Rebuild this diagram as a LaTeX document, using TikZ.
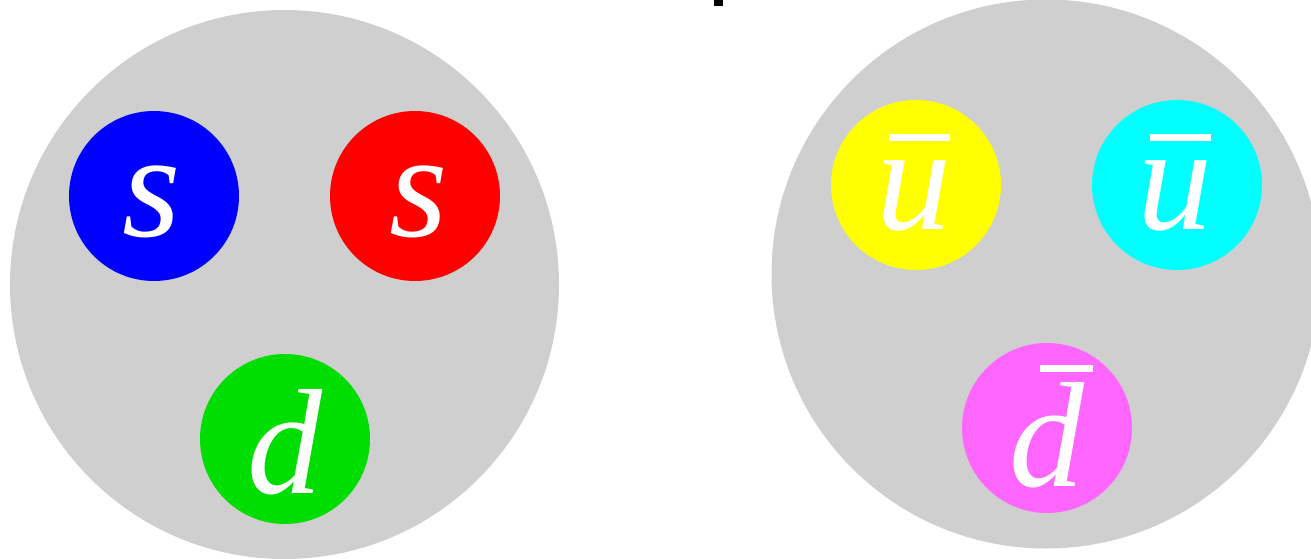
\documentclass[tikz,border=0pt]{standalone}
\usepackage{fontspec}
\setmainfont{Liberation Serif}
\definecolor{hadron}{HTML}{CFCFCF}
\definecolor{qblue}{HTML}{0000FF}
\definecolor{qred}{HTML}{FF0000}
\definecolor{qgreen}{HTML}{00DD00}
\definecolor{qyellow}{HTML}{FFFF00}
\definecolor{qcyan}{HTML}{00FFFF}
\definecolor{qmagenta}{HTML}{FF66FF}
\tikzset{
  bigball/.style={circle, fill=hadron, draw=none, minimum size=549pt, inner sep=0pt},
  quark/.style={circle, draw=none, minimum size=170pt, inner sep=0pt},
  flavour/.style={text=white, font=\fontsize{150}{150}\selectfont\itshape, anchor=base, inner sep=0pt},
}
\newcommand{\antibar}[3]{\rlap{\hspace{#1}\raisebox{#2}{\rule{#3}{7pt}}}}
\begin{document}
\begin{tikzpicture}[x=1pt,y=-1pt]
\useasboundingbox (0,0) rectangle (1311,559);
\clip (0,0) rectangle (1311,559);
% hadrons
\node[bigball] (omega) at (284.5,284.5) {};
\node[bigball] (meson) at (1046,274) {};
% quarks left
\node[quark, fill=qblue] (q1) at (154,196) {};
\node[quark, fill=qred] (q2) at (415,196) {};
\node[quark, fill=qgreen] (q3) at (285,439) {};
\node[flavour] (t1) at (152,236) {s};
\node[flavour] (t2) at (419,236) {s};
\node[flavour] (t3) at (285,493) {d};
% antiquarks right
\node[quark, fill=qyellow] (a1) at (916,185) {};
\node[quark, fill=qcyan] (a2) at (1177,185) {};
\node[quark, fill=qmagenta] (a3) at (1047,428) {};
\node[flavour] (b1) at (914,229) {\antibar{12pt}{88pt}{61pt}u};
\node[flavour] (b2) at (1175,229) {\antibar{12pt}{88pt}{61pt}u};
\node[flavour] (b3) at (1047,486) {\antibar{30pt}{114pt}{53pt}d};
% small black mark at top
\fill[black] (714,0) rectangle (723,6);
\end{tikzpicture}
\end{document}
